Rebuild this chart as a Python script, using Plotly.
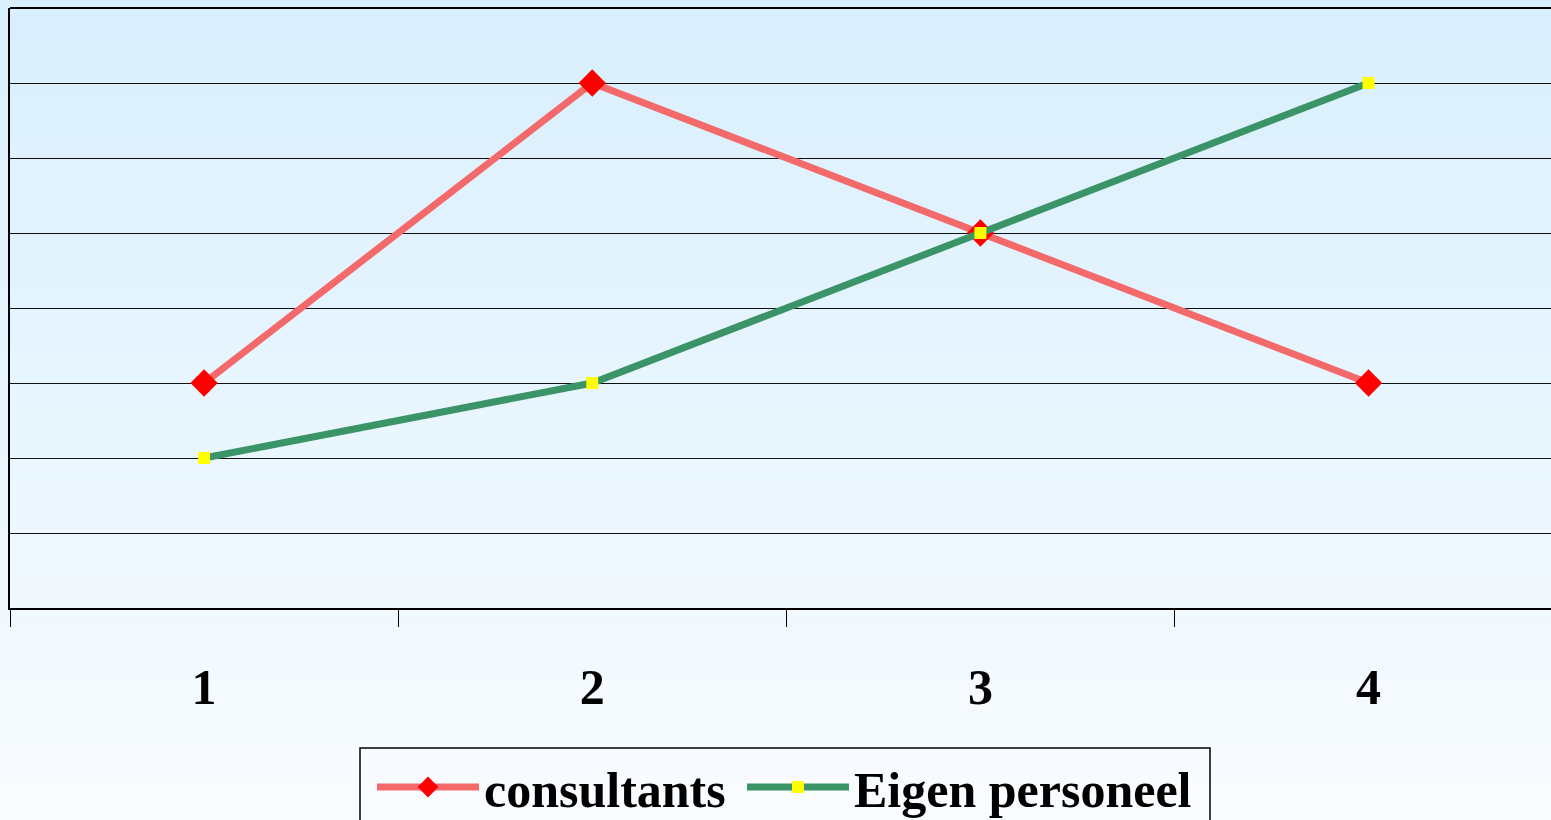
import plotly.graph_objects as go

categories = ["1", "2", "3", "4"]
consultants = [3, 7, 5, 3]
eigen_personeel = [2, 3, 5, 7]
series_names = ["consultants", "Eigen personeel"]

W, H = 1551, 820
ML, MR, MT, MB = 10, 0, 8, 212
PW, PH = W - ML - MR, H - MT - MB


def px_x(px):
    return (px - ML) / PW


def px_y(py):
    return (H - MB - py) / PH


fig = go.Figure()
fig.add_trace(go.Scatter(
    x=categories, y=consultants, name=series_names[0], mode="lines+markers",
    line=dict(color="#F46A6A", width=7),
    marker=dict(symbol="diamond", size=21, color="#FF0000", line=dict(width=0)),
    legend="legend",
))
fig.add_trace(go.Scatter(
    x=categories, y=eigen_personeel, name=series_names[1], mode="lines+markers",
    line=dict(color="#3B9467", width=7),
    marker=dict(symbol="square", size=12, color="#FFFF00", line=dict(width=0)),
    legend="legend2",
))

# background vertical gradient (stripes)
top = (0xD8, 0xEF, 0xFD)
bot = (0xF9, 0xFC, 0xFF)
n = 82
shapes = []
x0p = -ML / PW - 0.01
x1p = 1 + MR / PW + 0.01
for i in range(n):
    t = i / (n - 1)
    c = tuple(round(top[k] + (bot[k] - top[k]) * t) for k in range(3))
    ya = 1 + MT / PH - (i / n) * (H / PH) + (0.02 if i == 0 else 0)
    yb = 1 + MT / PH - ((i + 1) / n) * (H / PH) - 0.002 - (0.02 if i == n - 1 else 0)
    shapes.append(dict(type="rect", xref="paper", yref="paper", x0=x0p, x1=x1p,
                       y0=yb, y1=ya, fillcolor="rgb(%d,%d,%d)" % c,
                       line=dict(width=0), layer="below"))
shapes.append(dict(type="line", xref="paper", yref="paper", x0=0, x1=1, y0=1, y1=1,
                   line=dict(color="black", width=2)))
# legend frame
shapes.append(dict(type="rect", xref="paper", yref="paper",
                   x0=px_x(360), x1=px_x(1210), y0=px_y(840), y1=px_y(748),
                   line=dict(color="black", width=1.5), fillcolor="rgba(0,0,0,0)"))

legend_font = dict(family="Liberation Serif", size=50, color="black", weight="bold")

fig.update_layout(
    width=W, height=H,
    margin=dict(l=ML, r=MR, t=MT, b=MB, autoexpand=False),
    paper_bgcolor="#F9FCFF", plot_bgcolor="rgba(0,0,0,0)",
    shapes=shapes,
    showlegend=True,
    legend=dict(orientation="h", x=px_x(372), xanchor="left", y=px_y(748), yanchor="top",
                bgcolor="rgba(0,0,0,0)", borderwidth=0, font=legend_font, itemwidth=102),
    legend2=dict(orientation="h", x=px_x(742), xanchor="left", y=px_y(748), yanchor="top",
                 bgcolor="rgba(0,0,0,0)", borderwidth=0, font=legend_font, itemwidth=102),
    xaxis=dict(type="category", range=[-0.5, 3.47], tickson="boundaries",
               ticks="outside", ticklen=17, tickwidth=1, tickcolor="black",
               showline=True, linecolor="black", linewidth=2, showgrid=False,
               tickfont=dict(family="Liberation Serif", size=50, color="black", weight="bold"),
               ticklabelstandoff=34),
    yaxis=dict(range=[0, 8], dtick=1, showticklabels=False, ticks="",
               showline=True, linecolor="black", linewidth=2,
               showgrid=True, gridcolor="#111111", gridwidth=1, zeroline=False),
)

fig.write_html("out.html", config={"displayModeBar": False},
               post_script="document.body.style.margin='0';document.body.style.overflow='hidden';")
